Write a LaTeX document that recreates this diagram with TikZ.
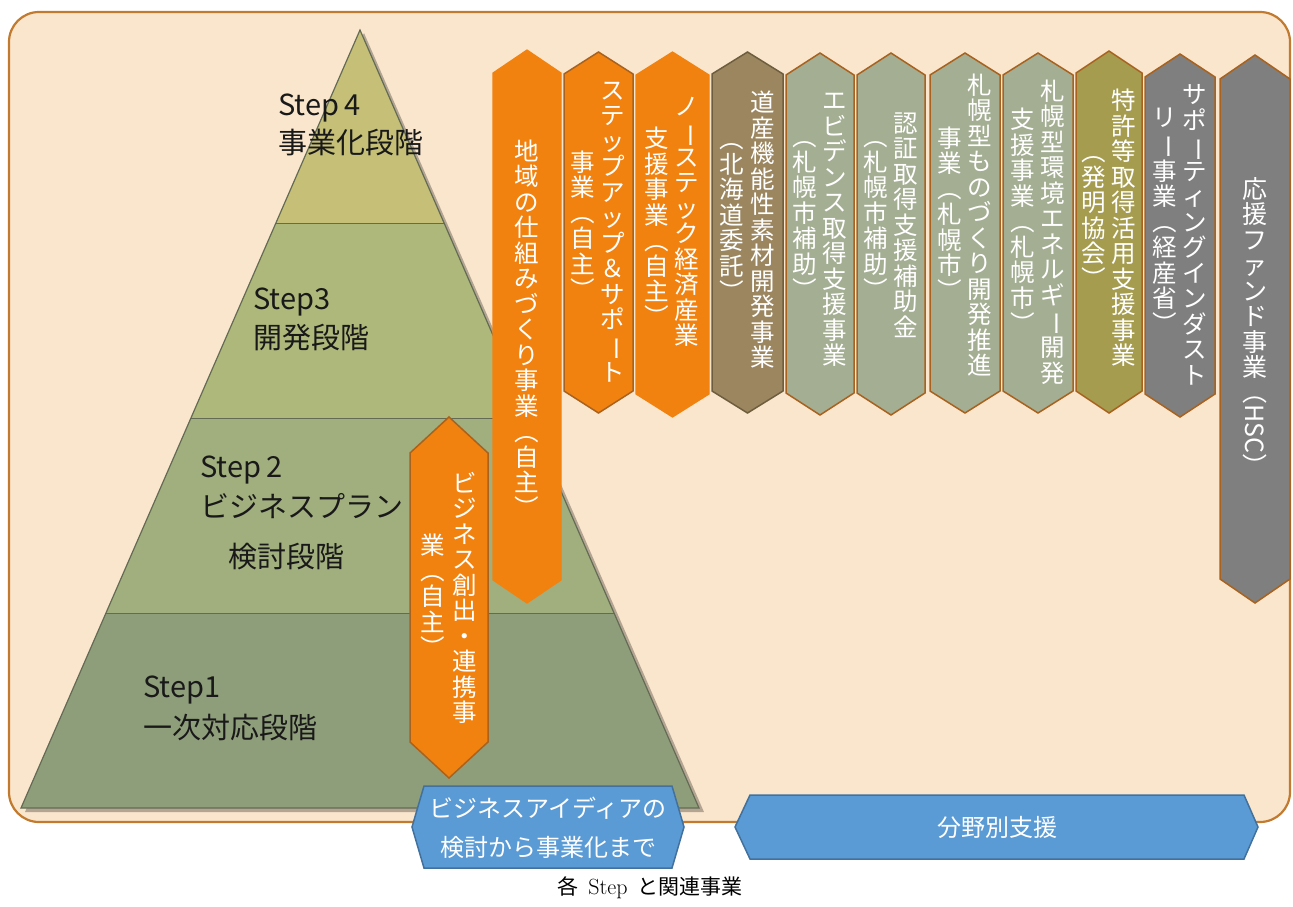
\documentclass[tikz,border=0pt]{standalone}
\usepackage{fontspec}
\usepackage{graphicx}
\newfontfamily\jp{Noto Sans CJK JP}
\definecolor{bgfill}{HTML}{FAE6CD}
\definecolor{bgline}{HTML}{C27A2E}
\definecolor{sfour}{HTML}{C5BF77}
\definecolor{sthree}{HTML}{AEB87A}
\definecolor{stwo}{HTML}{A0AF7D}
\definecolor{sone}{HTML}{8F9E7A}
\definecolor{pyrline}{HTML}{646B55}
\definecolor{orng}{HTML}{F2820F}
\definecolor{brwnline}{HTML}{A8621E}
\definecolor{brwnfill}{HTML}{9B8660}
\definecolor{brwndark}{HTML}{6E5E3E}
\definecolor{sage}{HTML}{A3AE93}
\definecolor{olive}{HTML}{A59C4F}
\definecolor{grayfill}{HTML}{7F7F7F}
\definecolor{bluefill}{HTML}{5B9BD5}
\definecolor{blueline}{HTML}{41719C}
\newcommand\vcol[1]{\vbox{\baselineskip=25.5pt\lineskiplimit=0pt\lineskip=1pt\vtloop#1\relax}}
\def\vtloop#1{\ifx\relax#1\else\hbox to 1em{\hss#1\hss}\expandafter\vtloop\fi}
\newcommand\vL{\rotatebox[origin=c]{-90}{（}}
\newcommand\vR{\rotatebox[origin=c]{-90}{）}}
\newcommand\vbar{\rotatebox[origin=c]{-90}{ー}}
\newcommand\vHSC{\rotatebox[origin=c]{-90}{（HSC）}}
\newcommand\vhex[6]{\draw[#1] (#2,#4+#6) -- ({(#2+#3)/2},#4) -- (#3,#4+#6) -- (#3,#5-#6) -- ({(#2+#3)/2},#5) -- (#2,#5-#6) -- cycle;}
\tikzset{
  vtxt/.style={text=white, font=\jp\fontsize{24.5}{25.5}\selectfont, inner sep=0pt},
  steplbl/.style={font=\jp\fontsize{29}{32}\selectfont, anchor=west, inner sep=0pt, text=black!90},
  hexorange/.style={fill=orng, draw=orng, line width=1.2pt},
  hexorangeb/.style={fill=orng, draw=brwnline, line width=1.5pt},
  hexbrown/.style={fill=brwnfill, draw=brwndark, line width=1.5pt},
  hexsage/.style={fill=sage, draw=brwnline, line width=1.5pt},
  hexolive/.style={fill=olive, draw=brwnline, line width=1.5pt},
  hexgray/.style={fill=grayfill, draw=brwnline, line width=1.5pt},
  bluebox/.style={fill=bluefill, draw=blueline, line width=1.5pt},
  bluetxt/.style={text=white, font=\jp\fontsize{24}{28}\selectfont, inner sep=0pt},
}
\begin{document}
\begin{tikzpicture}[x=1pt,y=-1pt]
\useasboundingbox (0,0) rectangle (1293,906);
% background panel
\draw[bgline, fill=bgfill, line width=2.2pt, rounded corners=30pt] (9,12) rectangle (1290,822);
% pyramid shadow
\fill[black, opacity=0.28] (364,33) -- (704,812) -- (25,812) -- cycle;
% pyramid bands
\fill[sfour] (360,30) -- (444,223) -- (276,223) -- cycle;
\fill[sthree] (276,223) -- (444,223) -- (529,418) -- (191,418) -- cycle;
\fill[stwo] (191,418) -- (529,418) -- (614,613) -- (106,613) -- cycle;
\fill[sone] (106,613) -- (614,613) -- (699,808) -- (21,808) -- cycle;
\draw[pyrline, line width=1pt] (276,223) -- (444,223) (191,418) -- (529,418) (106,613) -- (614,613);
\draw[pyrline, line width=1.2pt] (360,30) -- (699,808) -- (21,808) -- cycle;
% step labels
\node[steplbl] (s4a) at (278,108) {Step\,4};
\node[steplbl] (s4b) at (278,143) {事業化段階};
\node[steplbl] (s3a) at (253,302) {Step3};
\node[steplbl] (s3b) at (253,338) {開発段階};
\node[steplbl] (s2a) at (200,470) {Step\,2};
\node[steplbl] (s2b) at (200,506) {ビジネスプラン};
\node[steplbl] (s2c) at (228,557) {検討段階};
\node[steplbl] (s1a) at (143,690) {Step1};
\node[steplbl] (s1b) at (143,727) {一次対応段階};
% vertical boxes
\vhex{hexorange}{493}{561}{50}{603}{23}
\node[vtxt] (b1) at (527,330) {\vcol{地域の仕組みづくり事業\vL 自主\vR}};
\vhex{hexorangeb}{564}{633}{52}{413}{22}
\node[vtxt] (b2a) at (613,232) {\vcol{ステップアップ＆サポ\vbar ト}};
\node[vtxt] (b2b) at (583,226) {\vcol{事業\vL 自主\vR}};
\vhex{hexorange}{636}{709}{52}{417}{23}
\node[vtxt] (b3a) at (687,222) {\vcol{ノ\vbar ステック経済産業}};
\node[vtxt] (b3b) at (657,228) {\vcol{支援事業\vL 自主\vR}};
\vhex{hexbrown}{712}{783}{52}{413}{22}
\node[vtxt] (b4a) at (763,230) {\vcol{道産機能性素材開発事業}};
\node[vtxt] (b4b) at (732,215) {\vcol{\vL 北海道委託\vR}};
\vhex{hexsage}{786}{854}{53}{415}{22}
\node[vtxt] (b5a) at (835,230) {\vcol{エビデンス取得支援事業}};
\node[vtxt] (b5b) at (805,213) {\vcol{\vL 札幌市補助\vR}};
\vhex{hexsage}{857}{925}{53}{415}{22}
\node[vtxt] (b6a) at (906,225) {\vcol{認証取得支援補助金}};
\node[vtxt] (b6b) at (876,213) {\vcol{\vL 札幌市補助\vR}};
\vhex{hexsage}{930}{1000}{53}{413}{22}
\node[vtxt] (b7a) at (980,225) {\vcol{札幌型ものづくり開発推進}};
\node[vtxt] (b7b) at (950,215) {\vcol{事業\vL 札幌市\vR}};
\vhex{hexsage}{1003}{1073}{53}{413}{22}
\node[vtxt] (b8a) at (1053,232) {\vcol{札幌型環境エネルギ\vbar 開発}};
\node[vtxt] (b8b) at (1023,222) {\vcol{支援事業\vL 札幌市\vR}};
\vhex{hexolive}{1076}{1142}{51}{413}{22}
\node[vtxt] (b9a) at (1124,228) {\vcol{特許等取得活用支援事業}};
\node[vtxt] (b9b) at (1094,215) {\vcol{\vL 発明協会\vR}};
\vhex{hexgray}{1145}{1215}{54}{417}{23}
\node[vtxt] (b10a) at (1195,235) {\vcol{サポ\vbar ティングインダスト}};
\node[vtxt] (b10b) at (1165,222) {\vcol{リ\vbar 事業\vL 経産省\vR}};
\vhex{hexgray}{1220}{1290}{55}{603}{24}
\node[vtxt, font=\jp\fontsize{25}{26}\selectfont] (b11) at (1255,328) {\vcol{応援ファンド事業\vHSC}};
\vhex{hexorangeb}{410}{488}{417}{778}{36}
\node[vtxt] (b12a) at (465,598) {\vcol{ビジネス創出・連携事}};
\node[vtxt] (b12b) at (433,597) {\vcol{業\vL 自主\vR}};
% bottom blue boxes
\draw[bluebox] (412,827) -- (424,786) -- (672,786) -- (684,827) -- (672,868) -- (424,868) -- cycle;
\node[bluetxt] (l1) at (548,808) {ビジネスアイディアの};
\node[bluetxt] (l2) at (548,847) {検討から事業化まで};
\draw[bluebox] (735,827) -- (750,795) -- (1244,795) -- (1258,827) -- (1244,859) -- (750,859) -- cycle;
\node[bluetxt] (r1) at (997,827) {分野別支援};
% caption
\node[font=\fontsize{22}{24}\selectfont, inner sep=0pt] (cap) at (650,888) {{\jp\fontsize{21}{24}\selectfont 各}\, Step\, {\jp\fontsize{21}{24}\selectfont と関連事業}};
\end{tikzpicture}
\end{document}
